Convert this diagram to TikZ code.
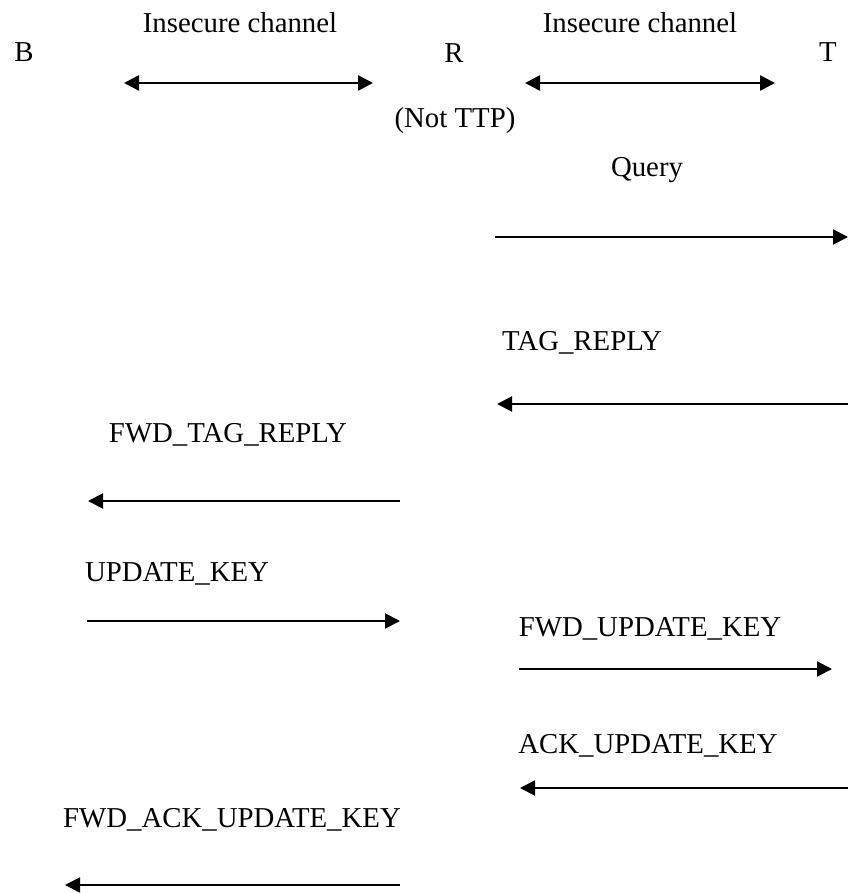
\documentclass[tikz,border=0pt]{standalone}
\usepackage{fontspec}
\setmainfont{Liberation Serif}
\usetikzlibrary{arrows.meta}
\begin{document}
\begin{tikzpicture}[x=1pt,y=-1pt,
  lbl/.style={inner sep=0pt,anchor=base,font=\fontsize{28.8}{34}\selectfont},
  msg/.style={line width=2pt,-{Triangle[length=15pt,width=15pt]}},
  chan/.style={line width=2.6pt,{Triangle[length=15pt,width=15pt]}-{Triangle[length=15pt,width=15pt]}}]
\useasboundingbox (0,0) rectangle (848,893);

% parties and channel labels
\node[lbl] (b) at (24,62) {B};
\node[lbl] (r) at (454,63) {R};
\node[lbl] (t) at (828,62) {T};
\node[lbl] (ch1) at (240,33) {Insecure channel};
\node[lbl] (ch2) at (640,33) {Insecure channel};
\node[lbl] (nottp) at (455,128) {(Not TTP)};

% channel arrows
\coordinate (c1a) at (124,83);
\coordinate (c1b) at (373,83);
\coordinate (c2a) at (525,83);
\coordinate (c2b) at (775,83);
\draw[chan] (c1a) -- (c1b);
\draw[chan] (c2a) -- (c2b);

% message labels
\node[lbl] (mq) at (647,177) {Query};
\node[lbl] (mtag) at (582,350) {TAG\_REPLY};
\node[lbl] (mfwdtag) at (228,442) {FWD\_TAG\_REPLY};
\node[lbl] (mupd) at (177,581) {UPDATE\_KEY};
\node[lbl] (mfwdupd) at (650,636) {FWD\_UPDATE\_KEY};
\node[lbl] (mack) at (648,753) {ACK\_UPDATE\_KEY};
\node[lbl] (mfwdack) at (232,827) {FWD\_ACK\_UPDATE\_KEY};

% message arrow end points
\coordinate (q1) at (495,237);  \coordinate (q2) at (848,237);
\coordinate (t1) at (848,404);  \coordinate (t2) at (497,404);
\coordinate (f1) at (400,501);  \coordinate (f2) at (88,501);
\coordinate (u1) at (87,621);   \coordinate (u2) at (400,621);
\coordinate (v1) at (519,669);  \coordinate (v2) at (832,669);
\coordinate (a1) at (848,788);  \coordinate (a2) at (520,788);
\coordinate (k1) at (400,885);  \coordinate (k2) at (65,885);

\draw[msg] (q1) -- (q2);
\draw[msg] (t1) -- (t2);
\draw[msg] (f1) -- (f2);
\draw[msg] (u1) -- (u2);
\draw[msg] (v1) -- (v2);
\draw[msg] (a1) -- (a2);
\draw[msg] (k1) -- (k2);
\end{tikzpicture}
\end{document}
